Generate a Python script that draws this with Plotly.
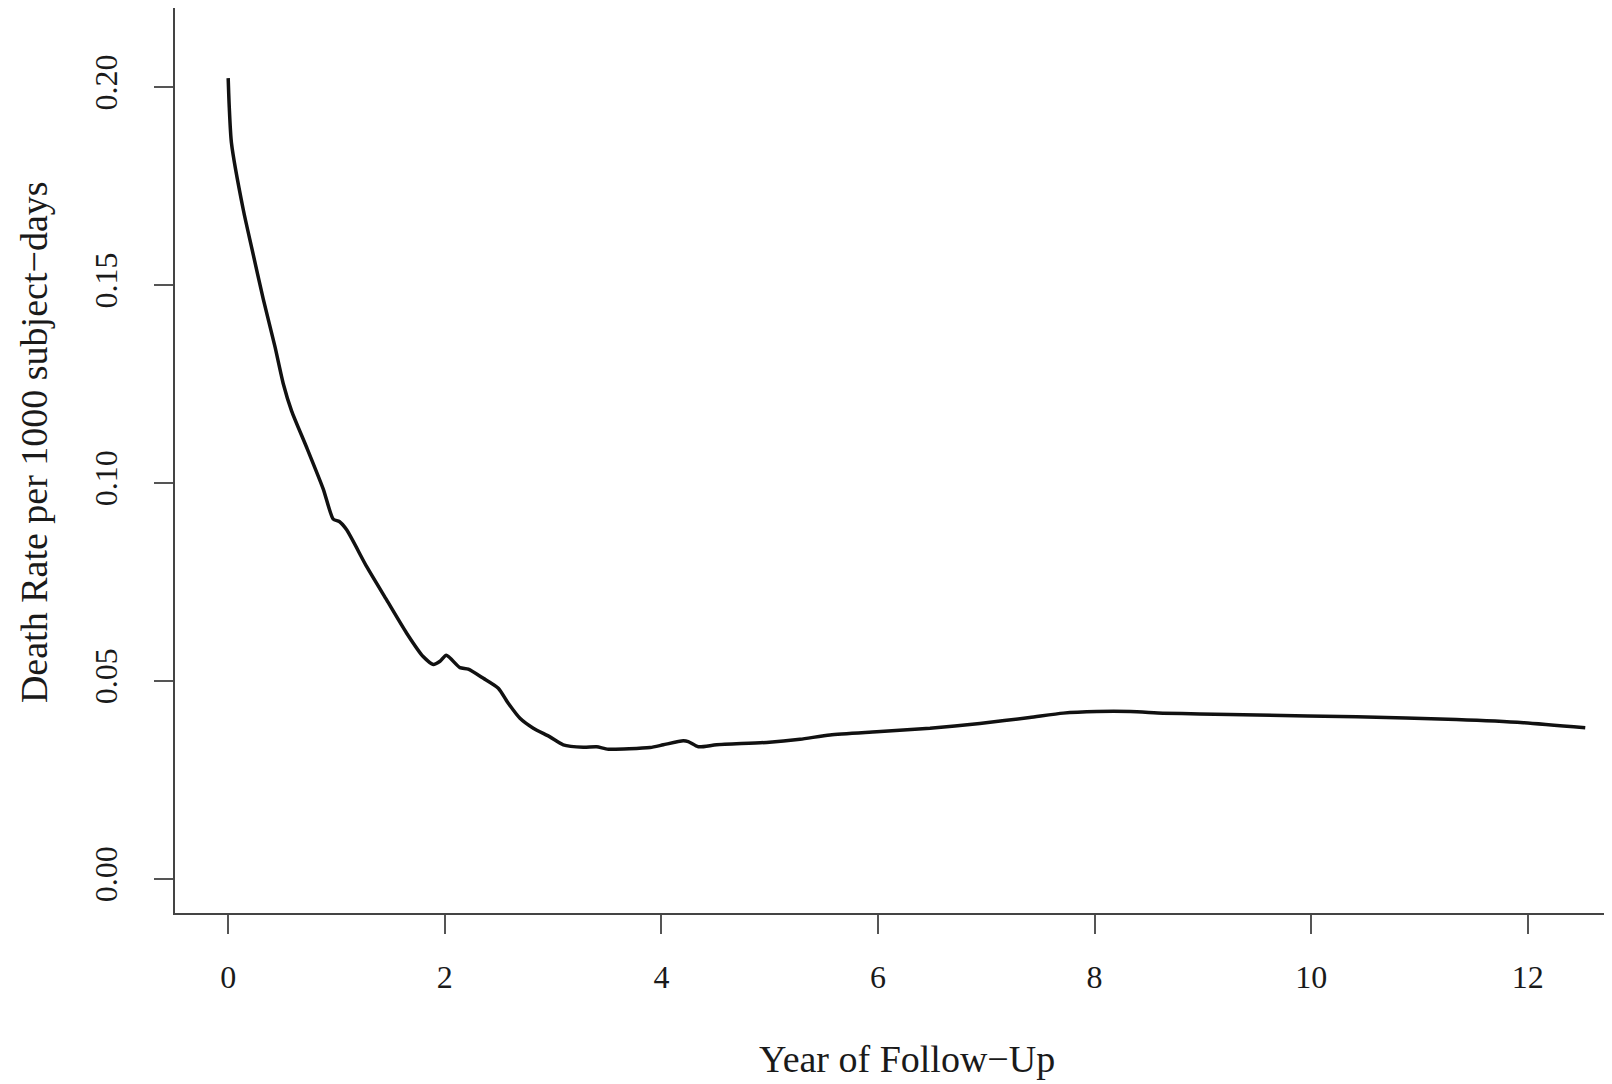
import plotly.graph_objects as go

# Year of follow-up
years = [0, 0.01, 0.03, 0.14, 0.217, 0.324, 0.432, 0.51, 0.586, 0.725, 0.878, 0.97,
         1.026, 1.094, 1.279, 1.463, 1.648, 1.80, 1.894, 1.956, 2.014, 2.14, 2.217,
         2.356, 2.494, 2.586, 2.694, 2.817, 2.971, 3.094, 3.279, 3.402, 3.51, 3.895,
         4.018, 4.202, 4.248, 4.341, 4.51, 4.972, 5.28, 5.557, 5.988, 6.48, 6.94, 7.40,
         7.71, 8.02, 8.33, 8.63, 8.97, 9.50, 10.42, 11.34, 11.96, 12.53]

# Death rate per 1000 subject-days
rates = [0.2023, 0.195, 0.186, 0.169, 0.1595, 0.1465, 0.1345, 0.1250, 0.1182, 0.1090,
         0.0985, 0.0909, 0.0903, 0.0882, 0.0789, 0.0705, 0.0621, 0.0562, 0.0542, 0.0550,
         0.0565, 0.0534, 0.0530, 0.0507, 0.0482, 0.0444, 0.0406, 0.0381, 0.0359, 0.0339,
         0.0333, 0.0334, 0.0328, 0.0332, 0.0339, 0.0349, 0.0347, 0.0334, 0.0339, 0.0345,
         0.0353, 0.0364, 0.0372, 0.0381, 0.0393, 0.0408, 0.0419, 0.0423, 0.0423, 0.0419,
         0.0417, 0.0414, 0.0410, 0.0403, 0.0395, 0.0382]

x_ticks = [0, 2, 4, 6, 8, 10, 12]
y_ticks = [0.00, 0.05, 0.10, 0.15, 0.20]
y_tick_labels = ["0.00", "0.05", "0.10", "0.15", "0.20"]

x_title = "Year of Follow\u2212Up"
y_title = "Death Rate per 1000 subject\u2212days"

FONT = "Liberation Serif"

fig = go.Figure()
fig.add_trace(go.Scatter(
    x=years, y=rates, mode="lines",
    line=dict(color="#111111", width=3.5, shape="spline", smoothing=0.6),
    showlegend=False, hoverinfo="skip",
))

fig.update_layout(
    width=1612, height=1084,
    margin=dict(l=167, r=8, t=0, b=179),
    paper_bgcolor="white", plot_bgcolor="white",
    font=dict(family=FONT, color="#1a1a1a", size=32),
    xaxis=dict(
        range=[-0.491, 12.777], tickvals=x_ticks,
        showline=True, linecolor="#444444", linewidth=2,
        ticks="outside", ticklen=19, tickwidth=2, tickcolor="#555555",
        showgrid=False, zeroline=False,
        tickfont=dict(family=FONT, size=32, color="#1a1a1a"),
        ticklabelstandoff=16,
    ),
    yaxis=dict(
        range=[-0.00859, 0.22003], tickvals=y_ticks, ticktext=y_tick_labels,
        showline=True, linecolor="#444444", linewidth=2,
        ticks="outside", ticklen=19, tickwidth=2, tickcolor="#555555",
        showgrid=False, zeroline=False, tickangle=-90,
        tickfont=dict(family=FONT, size=32, color="#1a1a1a"),
        ticklabelstandoff=24,
    ),
    annotations=[
        dict(text=x_title, xref="paper", yref="paper", x=0.5094, y=-0.1613,
             xanchor="center", yanchor="middle", showarrow=False,
             font=dict(family=FONT, size=38, color="#1a1a1a")),
        dict(text=y_title, xref="paper", yref="paper", x=-0.0981, y=0.5204,
             xanchor="center", yanchor="middle", showarrow=False, textangle=-90,
             font=dict(family=FONT, size=38, color="#1a1a1a")),
    ],
)

fig.write_html("out.html")
